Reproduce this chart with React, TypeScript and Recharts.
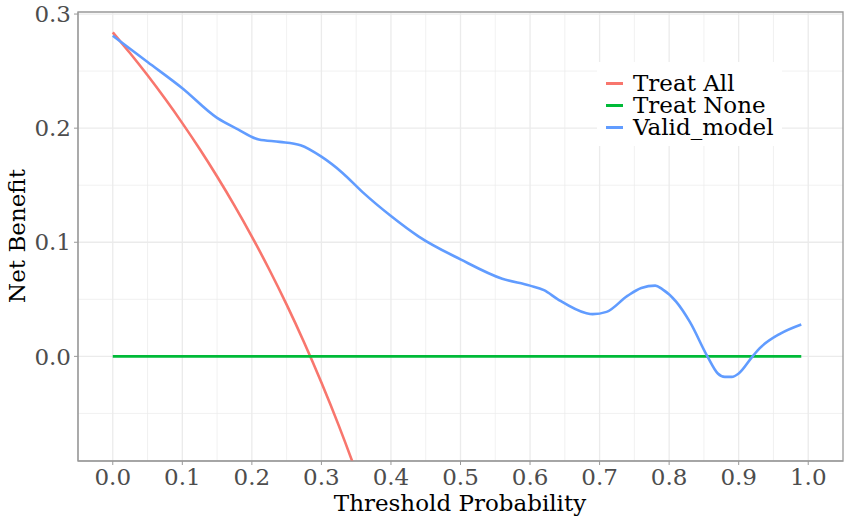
import React from "react";
import {
  LineChart,
  Line,
  XAxis,
  YAxis,
  CartesianGrid,
  ReferenceArea,
} from "recharts";

// tick labels
const xTicks = [0, 0.1, 0.2, 0.3, 0.4, 0.5, 0.6, 0.7, 0.8, 0.9, 1.0];
const yTicks = [0, 0.1, 0.2, 0.3];
const xMinor = [0.05, 0.15, 0.25, 0.35, 0.45, 0.55, 0.65, 0.75, 0.85, 0.95];
const yMinor = [-0.05, 0.05, 0.15, 0.25];

// Treat All
const allThreshold = [0, 0.025, 0.05, 0.075, 0.1, 0.125, 0.15, 0.175, 0.2, 0.225, 0.25, 0.275, 0.3, 0.325, 0.35, 0.375];
const allBenefit = [0.284, 0.2656, 0.2463, 0.2259, 0.2044, 0.1817, 0.1576, 0.1321, 0.105, 0.0761, 0.0453, 0.0124, -0.0229, -0.0607, -0.1015, -0.1456];

// Treat None
const noneThreshold = [0, 0.99];
const noneBenefit = [0, 0];

// Valid_model
const modelThreshold = [0, 0.05, 0.1, 0.15, 0.18, 0.21, 0.24, 0.27, 0.3, 0.33, 0.36, 0.4, 0.44, 0.5, 0.56, 0.6, 0.62, 0.64, 0.68, 0.69, 0.71, 0.74, 0.76, 0.78, 0.79, 0.81, 0.83, 0.855, 0.87, 0.88, 0.89, 0.9, 0.92, 0.93, 0.96, 0.99];
const modelBenefit = [0.281, 0.258, 0.235, 0.209, 0.199, 0.19, 0.188, 0.185, 0.175, 0.161, 0.1435, 0.123, 0.105, 0.085, 0.068, 0.062, 0.058, 0.05, 0.038, 0.037, 0.039, 0.053, 0.06, 0.062, 0.059, 0.048, 0.03, 0.0, -0.015, -0.018, -0.018, -0.015, 0.0, 0.007, 0.02, 0.028];

const toRows = (xs: number[], ys: number[]) => xs.map((x, i) => ({ x, y: ys[i] }));

const series = [
  { name: "Treat All", color: "#F8766D", data: toRows(allThreshold, allBenefit) },
  { name: "Treat None", color: "#00BA38", data: toRows(noneThreshold, noneBenefit) },
  { name: "Valid_model", color: "#619CFF", data: toRows(modelThreshold, modelBenefit) },
];

const FONT = "DejaVu Serif";
const FS = 23;

function LegendBox() {
  return (
    <div
      style={{
        position: "absolute",
        left: 597,
        top: 62,
        background: "#fff",
        padding: "10px 8px 8px 9px",
        fontFamily: FONT,
        fontSize: FS,
        color: "#000",
      }}
    >
      {series.map((s) => (
        <div key={s.name} style={{ display: "flex", alignItems: "center", height: 22 }}>
          <span style={{ display: "block", width: 17, height: 3, background: s.color, marginRight: 10 }} />
          <span style={{ display: "block", height: 22, lineHeight: "22px", whiteSpace: "nowrap", overflow: "visible" }}>
            {s.name}
          </span>
        </div>
      ))}
    </div>
  );
}

export default function App() {
  return (
    <div style={{ position: "absolute", left: 0, top: 0, width: 850, height: 524, background: "#fff" }}>
      <LineChart width={850} height={524} margin={{ top: 12, right: 7, bottom: 0, left: 0 }}>
        <CartesianGrid horizontalValues={yMinor} verticalValues={xMinor} stroke="#EBEBEB" strokeWidth={0.7} />
        <CartesianGrid horizontalValues={yTicks} verticalValues={xTicks} stroke="#EBEBEB" strokeWidth={1.3} />
        <XAxis
          dataKey="x"
          type="number"
          domain={[-0.05, 1.05]}
          ticks={xTicks}
          allowDuplicatedCategory={false}
          height={63}
          tickSize={4}
          tickMargin={4}
          tickFormatter={(v: number) => v.toFixed(1)}
          tick={{ fontFamily: FONT, fontSize: FS, fill: "#4D4D4D" }}
          stroke="#999"
          label={() => (
            <text x={460} y={511} textAnchor="middle" fontFamily={FONT} fontSize={FS} fill="#000">
              Threshold Probability
            </text>
          )}
        />
        <YAxis
          dataKey="y"
          type="number"
          domain={[-0.0917, 0.3018]}
          allowDataOverflow
          ticks={yTicks}
          width={78}
          tickSize={4}
          tickMargin={3}
          tickFormatter={(v: number) => v.toFixed(1)}
          tick={{ fontFamily: FONT, fontSize: FS, fill: "#4D4D4D" }}
          stroke="#999"
          label={() => (
            <text
              x={17}
              y={236}
              transform="rotate(-90 17 236)"
              textAnchor="middle"
              dominantBaseline="central"
              fontFamily={FONT}
              fontSize={FS}
              fill="#000"
            >
              Net Benefit
            </text>
          )}
        />
        <ReferenceArea x1={-0.05} x2={1.05} y1={-0.0917} y2={0.3018} fill="none" stroke="#999" strokeWidth={1.3} />
        {series.map((s) => (
          <Line
            key={s.name}
            data={s.data}
            dataKey="y"
            name={s.name}
            type="monotone"
            stroke={s.color}
            strokeWidth={2.6}
            dot={false}
            activeDot={false}
            isAnimationActive={false}
          />
        ))}
      </LineChart>
      <LegendBox />
    </div>
  );
}
